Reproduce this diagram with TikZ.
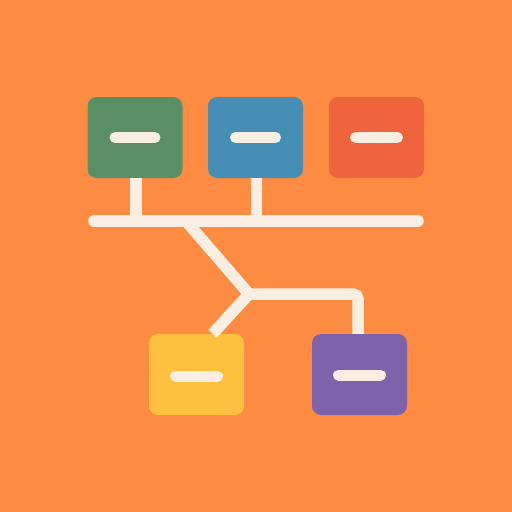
\documentclass[tikz,border=0pt]{standalone}
\begin{document}
\begin{tikzpicture}[x=1pt,y=-1pt,
  box/.style={rounded corners=9pt, minimum width=95pt, minimum height=81pt, inner sep=0pt, draw=none},
  dashbar/.style={line width=11pt, line cap=round, draw=cream},
  conn/.style={line width=11.5pt, draw=cream}]
\definecolor{bg}{HTML}{FD8B42}
\definecolor{cream}{HTML}{F8EFE2}
\definecolor{cgreen}{HTML}{5A8E65}
\definecolor{cblue}{HTML}{478EB5}
\definecolor{cred}{HTML}{F0643D}
\definecolor{cyellow}{HTML}{FDC03F}
\definecolor{cpurple}{HTML}{7F63AA}
\fill[bg] (0,0) rectangle (512,512);
\useasboundingbox (0,0) rectangle (512,512);
% coordinates
\coordinate (barL) at (94,221);
\coordinate (barR) at (418,221);
\coordinate (diagTop) at (186,221);
\coordinate (junc) at (249,294);
\coordinate (turn) at (358,294);
% boxes
\node[box, fill=cgreen] (g) at (135,137.5) {};
\node[box, fill=cblue] (b) at (255.5,137.5) {};
\node[box, fill=cred] (r) at (376.5,137.5) {};
\node[box, fill=cyellow] (y) at (196.5,374.5) {};
\node[box, fill=cpurple] (p) at (359.5,374.5) {};
% connectors
\draw[conn] ([xshift=1pt]g.south) -- ([xshift=1pt]g.south |- barL);
\draw[conn] ([xshift=1pt]b.south) -- ([xshift=1pt]b.south |- barL);
\draw[conn, line cap=round] (barL) -- (barR);
\draw[conn, line join=round] (diagTop) -- (junc) -- ([xshift=16pt]y.north);
\draw[conn, rounded corners=5pt] (junc) -- (turn) -- (turn |- p.north);
% dashes
\draw[dashbar] ([xshift=-20pt]g.center) -- ([xshift=20pt]g.center);
\draw[dashbar] ([xshift=-20pt]b.center) -- ([xshift=20pt]b.center);
\draw[dashbar] ([xshift=-21pt]r.center) -- ([xshift=21pt]r.center);
\draw[dashbar] ([xshift=-21pt]y.center|-0,376) -- ([xshift=21pt]y.center|-0,376);
\draw[dashbar] ([xshift=-21pt]p.center|-0,375) -- ([xshift=21pt]p.center|-0,375);
\end{tikzpicture}
\end{document}
